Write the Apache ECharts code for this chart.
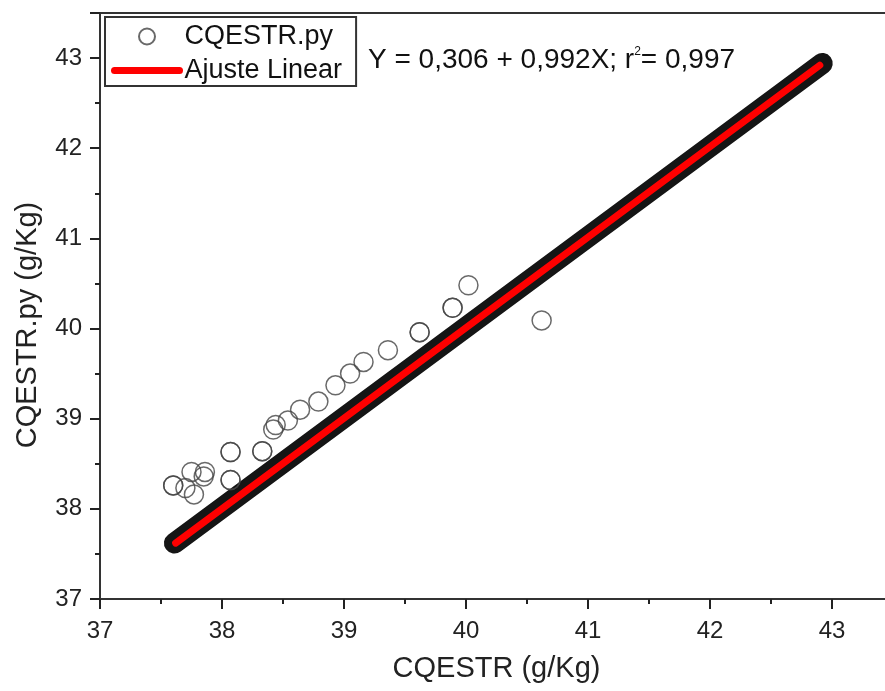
<!DOCTYPE html>
<html lang="en">
<head>
	<meta charset="UTF-8">
	<title>CQESTR</title>
	<script src="https://cdn.jsdelivr.net/npm/echarts@6/dist/echarts.min.js"></script>
	<style>
		html, body { margin: 0; padding: 0; background: #fff; }
	</style>
</head>
<body>
	<div id="chart" style="width: 885px; height: 691px"></div>

	<script>
		// pontos fora da reta
		var pontosX = [37.60, 37.60, 37.70, 37.75, 37.77, 37.85, 37.86, 38.07, 38.07, 38.07, 38.07, 38.33, 38.33, 38.42, 38.44, 38.54, 38.64, 38.79, 38.93, 39.05, 39.16, 39.36, 39.62, 39.62, 39.89, 39.89, 40.02, 40.62];
		var pontosY = [38.26, 38.26, 38.23, 38.41, 38.16, 38.36, 38.41, 38.63, 38.63, 38.32, 38.32, 38.64, 38.64, 38.88, 38.93, 38.98, 39.10, 39.19, 39.37, 39.50, 39.63, 39.76, 39.96, 39.96, 40.23, 40.23, 40.48, 40.09];
		// pontos sobre a reta (faixa preta), extremos
		var faixaX = [37.61, 42.92];
		var faixaY = [37.62, 42.94];
		// ajuste linear
		var ajusteX = [37.62, 42.90];
		var ajusteY = [37.62, 42.92];
		var ticksInteiros = [37, 38, 39, 40, 41, 42, 43];

		function pares(xs, ys) {
			return xs.map(function (x, i) { return [x, ys[i]]; });
		}

		var fonte = '"Liberation Sans", Arial, sans-serif';
		var chart = echarts.init(document.getElementById('chart'));

		var eixo = {
			min: 37,
			max: 43.5,
			interval: 1,
			axisLine: { show: true, lineStyle: { color: '#333', width: 2 } },
			axisTick: { show: true, inside: false, length: 10, lineStyle: { color: '#222', width: 2 } },
			minorTick: { show: true, splitNumber: 2, length: 5, lineStyle: { color: '#222', width: 2 } },
			splitLine: { show: false },
			axisLabel: {
				color: '#222',
				fontSize: 24,
				fontFamily: fonte,
				formatter: function (v) {
					return ticksInteiros.indexOf(v) >= 0 ? String(v) : '';
				}
			},
			nameLocation: 'middle',
			nameTextStyle: { color: '#222', fontSize: 29, fontFamily: fonte }
		};

		var option = {
			backgroundColor: '#fff',
			animation: false,
			grid: {
				left: 100,
				top: 13,
				right: -8,
				bottom: 92,
				outerBoundsMode: 'none',
				containLabel: false,
				show: true,
				borderColor: '#333',
				borderWidth: 2
			},
			xAxis: Object.assign({}, eixo, {
				type: 'value',
				name: 'CQESTR (g/Kg)',
				nameGap: 55,
				axisLabel: Object.assign({}, eixo.axisLabel, { margin: 20 })
			}),
			yAxis: Object.assign({}, eixo, {
				type: 'value',
				name: 'CQESTR.py (g/Kg)',
				nameGap: 58,
				nameTextStyle: Object.assign({}, eixo.nameTextStyle, { padding: [0, 38, 0, 0] }),
				axisLabel: Object.assign({}, eixo.axisLabel, { margin: 18 })
			}),
			legend: {
				orient: 'vertical',
				left: 105,
				top: 17,
				itemWidth: 65,
				itemHeight: 16,
				itemGap: 7,
				padding: [6, 14, 2, 6],
				borderColor: '#333',
				borderWidth: 2,
				textStyle: { color: '#111', fontSize: 27, fontFamily: fonte },
				data: [
					{ name: 'CQESTR.py' },
					{ name: 'Ajuste Linear' }
				],
				lineStyle: { width: 7, cap: 'round' }
			},
			graphic: [{
				type: 'text',
				left: 368,
				top: 46,
				style: {
					text: '{n|Y = 0,306 + 0,992X; r}{s|2}{n|= 0,997}',
					rich: {
						n: { fontSize: 28, fontFamily: fonte, fill: '#111' },
						s: { fontSize: 12, fontFamily: fonte, fill: '#111', verticalAlign: 'top', padding: [0, 0, 14, 0] }
					}
				}
			}],
			series: [
				{
					name: 'faixa',
					type: 'line',
					data: pares(faixaX, faixaY),
					symbol: 'none',
					lineStyle: { color: '#151515', width: 21, cap: 'round' },
					z: 2
				},
				{
					name: 'CQESTR.py',
					type: 'scatter',
					data: pares(pontosX, pontosY),
					symbol: 'circle',
					symbolSize: 19,
					itemStyle: { color: 'rgba(0,0,0,0)', borderColor: '#444', borderWidth: 1.5 },
					z: 3
				},
				{
					name: 'Ajuste Linear',
					type: 'line',
					data: pares(ajusteX, ajusteY),
					symbol: 'none',
					itemStyle: { color: '#ff0000', opacity: 0 },
					lineStyle: { color: '#ff0000', width: 7, cap: 'round', opacity: 1 },
					z: 4
				}
			]
		};
		chart.setOption(option);
	</script>
</body>
</html>
